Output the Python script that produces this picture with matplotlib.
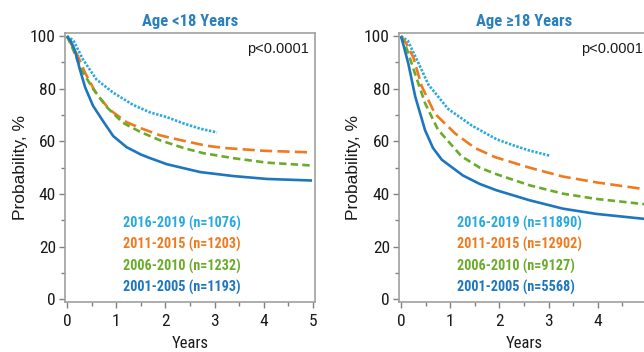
import matplotlib
matplotlib.use("Agg")
import matplotlib.pyplot as plt
from matplotlib.ticker import MultipleLocator
from matplotlib import font_manager as fm
from matplotlib.font_manager import FontProperties

# ---------------- data ----------------
panel_titles = ["Age <18 Years", "Age \u226518 Years"]
p_text = "p<0.0001"
period_labels = ["2016-2019", "2011-2015", "2006-2010", "2001-2005"]
n_left = [1076, 1203, 1232, 1193]
n_right = [11890, 12902, 9127, 5568]

# Age <18 years
L_2016_t = [0, 0.13, 0.33, 0.6, 0.94, 1.35, 1.69, 2.03, 2.37, 2.71, 3.05]
L_2016_y = [100, 98.4, 91, 83.5, 78.5, 73.8, 71, 69.2, 66.8, 64.8, 63.4]
L_2011_t = [0, 0.1, 0.22, 0.37, 0.6, 0.87, 1.21, 1.5, 1.89, 2.3, 2.84, 3.25, 4.0, 4.98]
L_2011_y = [100, 96.5, 92.5, 86, 78, 72, 67.3, 65, 62.3, 60.5, 58.3, 57.4, 56.4, 55.8]
L_2006_t = [0, 0.1, 0.3, 0.53, 0.81, 1.14, 1.5, 1.89, 2.4, 2.77, 3.38, 4.06, 4.98]
L_2006_y = [100, 96, 87, 80, 73, 67, 63.5, 60.4, 57.3, 55.5, 53.6, 51.9, 50.8]
L_2001_t = [0, 0.08, 0.16, 0.26, 0.37, 0.53, 0.74, 0.94, 1.21, 1.5, 1.69, 2.03, 2.71, 3.38, 4.06, 4.98]
L_2001_y = [100, 98, 94.6, 87.5, 80.5, 73.5, 67.5, 62, 57.8, 55, 53.6, 51.3, 48.3, 46.8, 45.7, 45.1]

# Age >=18 years
R_2016_t = [0, 0.14, 0.35, 0.56, 0.96, 1.44, 1.94, 2.28, 2.61, 3.03]
R_2016_y = [100, 98.2, 90, 81.5, 72.3, 66, 60.8, 58.5, 56.5, 54.5]
R_2011_t = [0, 0.1, 0.25, 0.42, 0.69, 1.1, 1.5, 1.91, 2.61, 3.29, 3.97, 4.95]
R_2011_y = [100, 97.5, 92, 81, 70.5, 63, 57.5, 54, 50, 46.6, 44.4, 41.8]
R_2006_t = [0, 0.07, 0.14, 0.29, 0.49, 0.75, 1.23, 1.6, 1.94, 2.61, 3.29, 3.97, 4.95]
R_2006_y = [100, 97.5, 94, 85.5, 74.5, 64.5, 54.3, 50, 47.5, 43.3, 40.1, 38.1, 36.1]
R_2001_t = [0, 0.06, 0.15, 0.29, 0.49, 0.65, 0.83, 1.26, 1.6, 1.94, 2.61, 3.29, 3.97, 4.95]
R_2001_y = [100, 96, 89.5, 77, 64.2, 57.5, 53, 47, 43.8, 41.4, 37.6, 34.4, 32.4, 30.5]

x_ticks = [0, 1, 2, 3, 4, 5]
x_ticklabels_left = ["0", "1", "2", "3", "4", "5"]
x_ticklabels_right = ["0", "1", "2", "3", "4", ""]
y_ticks = [0, 20, 40, 60, 80, 100]

# ---------------- fonts ----------------
def pick_narrow():
    for fam in ["Liberation Sans Narrow", "Arial Narrow", "Roboto Condensed",
                "Noto Sans Condensed", "Open Sans Condensed"]:
        try:
            path = fm.findfont(FontProperties(family=fam), fallback_to_default=False)
            low = path.lower()
            if "narrow" in low or "condensed" in low:
                return fam
        except Exception:
            pass
    return None

_n = pick_narrow()
IS_NARROW = _n is not None
NARROW = [_n, "DejaVu Sans"] if IS_NARROW else ["Liberation Sans", "DejaVu Sans"]
REG = ["Liberation Sans", "DejaVu Sans"]

tick_fs = 12.5 if IS_NARROW else 11
title_fs = 12 if IS_NARROW else 10.8
leg_fs = 10.2 if IS_NARROW else 9.6
xl_fs = 12 if IS_NARROW else 10.8

# ---------------- styles ----------------
colors = ["#27a9e1", "#f07a1e", "#6aab2a", "#1d76bf"]
title_color = "#2a7fc0"
LW = 1.9
styles = [
    dict(linestyle=(0, (0.9, 0.6))),
    dict(linestyle=(0, (4.6, 2.0))),
    dict(linestyle=(0, (2.8, 1.6))),
    dict(linestyle="-"),
]

fig = plt.figure(figsize=(6.44, 3.52), dpi=100)
W, H = 644, 352

def ax_rect(left_px, right_px, top_px, bottom_px):
    return [left_px / W, 1 - bottom_px / H, (right_px - left_px) / W, (bottom_px - top_px) / H]

axL = fig.add_axes(ax_rect(65, 315, 33, 302))
axR = fig.add_axes(ax_rect(399, 649, 33, 302))

panels = [
    (axL, [(L_2016_t, L_2016_y), (L_2011_t, L_2011_y), (L_2006_t, L_2006_y), (L_2001_t, L_2001_y)],
     n_left, 123, x_ticklabels_left, 28),
    (axR, [(R_2016_t, R_2016_y), (R_2011_t, R_2011_y), (R_2006_t, R_2006_y), (R_2001_t, R_2001_y)],
     n_right, 457, x_ticklabels_right, 361),
]

for i, (ax, series, ns, leg_x_px, xtl, ylab_x_px) in enumerate(panels):
    for (t, y), c, st in zip(series, colors, styles):
        ax.plot(t, y, color=c, lw=LW, solid_capstyle="butt", dash_capstyle="butt", **st)
    ax.set_xlim(-0.04, 5.04)
    ax.set_ylim(-1.1, 101.2)
    ax.set_xticks(x_ticks)
    ax.set_xticklabels(xtl)
    ax.set_yticks(y_ticks)
    ax.xaxis.set_minor_locator(MultipleLocator(0.5))
    ax.yaxis.set_minor_locator(MultipleLocator(10))
    for sp in ax.spines.values():
        sp.set_color("#a0a0a0")
        sp.set_linewidth(1.2)
    ax.tick_params(which="both", direction="out", color="#808080", width=1.0,
                   labelsize=tick_fs, labelcolor="#1a1a1a")
    ax.tick_params(which="major", length=4.5, pad=2)
    ax.tick_params(axis="x", which="major", pad=4)
    ax.tick_params(which="minor", length=3)
    for lab in ax.get_xticklabels() + ax.get_yticklabels():
        lab.set_family(NARROW)
    ax.set_xlabel("Years", fontsize=xl_fs, family=NARROW, color="#1a1a1a", labelpad=5)
    ax.set_ylabel("Probability, %", fontsize=12.5, family=REG, color="#1a1a1a")
    ax.yaxis.set_label_coords(
        ax.transAxes.inverted().transform((ylab_x_px, 0))[0], 0.5,
        transform=ax.transAxes)
    ax.set_title(panel_titles[i], fontsize=title_fs, family=NARROW,
                 fontweight="bold", color=title_color, pad=5)
    ax.text(0.975, 0.965, p_text, transform=ax.transAxes, ha="right", va="top",
            fontsize=10.5, family=REG, color="#1a1a1a")
    inv = ax.transAxes.inverted()
    for k, (lab, n, c) in enumerate(zip(period_labels, ns, colors)):
        ypx = 223 + k * 21.5
        ax_x, ax_y = inv.transform((leg_x_px, H - ypx))
        ax.text(ax_x, ax_y, f"{lab} (n={n})", transform=ax.transAxes, ha="left", va="center",
                fontsize=leg_fs, family=NARROW, fontweight="bold", color=c)

fig.savefig("out.png", dpi=100)
